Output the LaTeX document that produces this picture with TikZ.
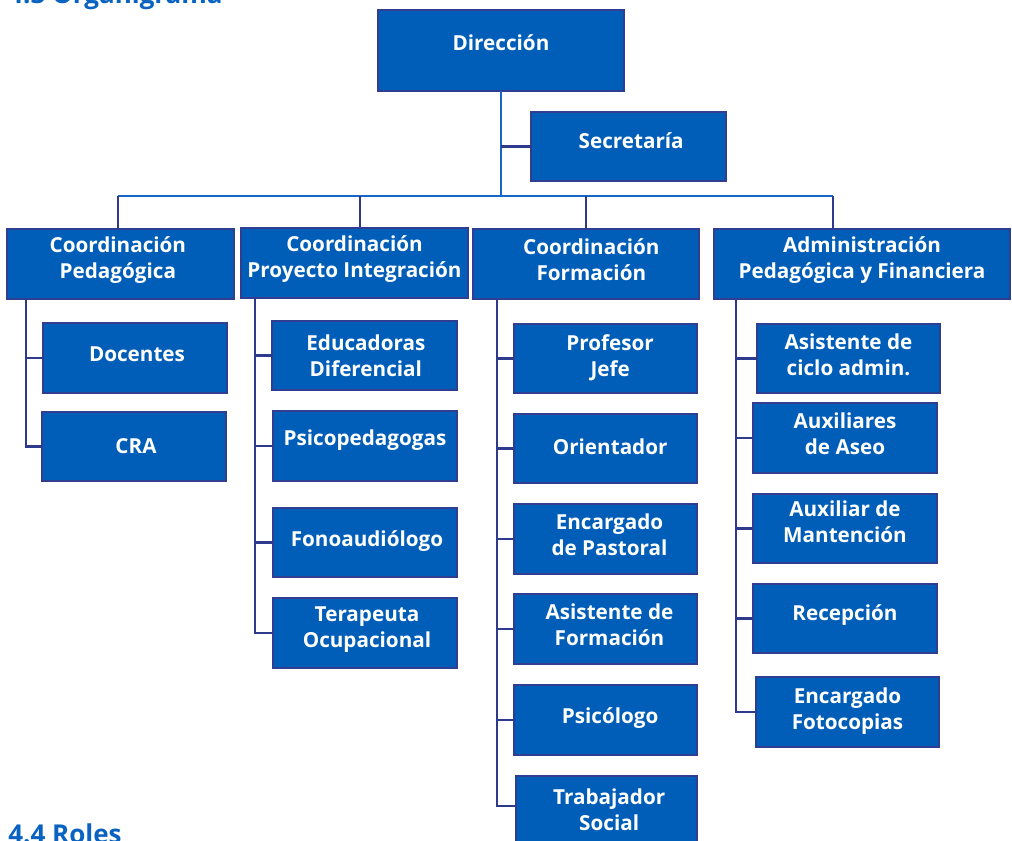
\documentclass[tikz,border=0pt]{standalone}
\usepackage{fontspec}
\setmainfont{Open Sans}
\usetikzlibrary{fit,calc}
\definecolor{orgfill}{RGB}{0,94,184}
\definecolor{orgedge}{RGB}{47,62,145}
\definecolor{orgnavy}{RGB}{46,58,140}
\definecolor{orgtrunk}{RGB}{22,102,200}
\definecolor{orghead}{RGB}{10,99,193}

\begin{document}
\begin{tikzpicture}[x=0.75pt, y=-0.75pt,
    orgbox/.style={draw=orgedge, fill=orgfill, line width=1.5pt, inner sep=0pt, outer sep=0pt},
    orgtext/.style={text=white, align=center, yshift=3pt, inner sep=0pt,
        font=\fontsize{15.5}{19.5}\selectfont\bfseries},
    link/.style={draw=orgnavy, line width=1.8pt},
    trunk/.style={draw=orgtrunk, line width=1.8pt},
    heading/.style={text=orghead, inner sep=0pt, font=\fontsize{19.5}{24}\selectfont\bfseries}
  ]
    \useasboundingbox (0,0) rectangle (1012,840);
    \clip (0,0) rectangle (1012,840);

    \node[heading, anchor=base west] (h43) at (8,3) {4.3 Organigrama};
    \node[heading, anchor=base west] (h44) at (8,843) {4.4 Roles};

    \node[orgbox, fit={(378,10) (624,91)}, label={[orgtext, yshift=3pt]center:Dirección}] (dir) {};
    \node[orgbox, fit={(531,112) (726,181)}, label={[orgtext, yshift=1.5pt, xshift=2pt]center:Secretaría}] (sec) {};

    \node[orgbox, fit={(7,229) (234,299)}, label={[orgtext, xshift=-2pt]center:Coordinación\\Pedagógica}] (cped) {};
    \node[orgbox, fit={(241,228) (468,298)}, label={[orgtext]center:Coordinación\\Proyecto Integración}] (cpi) {};
    \node[orgbox, fit={(473,229) (699,299)}, label={[orgtext, xshift=4pt]center:Coordinación\\Formación}] (cfor) {};
    \node[orgbox, fit={(714,229) (1010,299)}, label={[orgtext]center:Administración\\Pedagógica y Financiera}] (cadm) {};

    \node[orgbox, fit={(43,323) (227,393)}, label={[orgtext, xshift=1.5pt]center:Docentes}] (doc) {};
    \node[orgbox, fit={(42,412) (226,481)}, label={[orgtext, yshift=-3pt, xshift=1.5pt]center:CRA}] (cra) {};

    \node[orgbox, fit={(272,321) (457,390)}, label={[orgtext, yshift=-3.5pt, xshift=1pt]center:Educadoras\\Diferencial}] (edu) {};
    \node[orgbox, fit={(273,411) (457,481)}, label={[orgtext, yshift=1.5pt]center:Psicopedagogas}] (psp) {};
    \node[orgbox, fit={(273,508) (457,577)}, label={[orgtext, yshift=-2pt, xshift=1.5pt]center:Fonoaudiólogo}] (fon) {};
    \node[orgbox, fit={(273,598) (457,668)}, label={[orgtext, yshift=-0.5pt, xshift=1.5pt]center:Terapeuta\\Ocupacional}] (ter) {};

    \node[orgbox, fit={(514,324) (697,393)}, label={[orgtext, yshift=-2.5pt, xshift=3.5pt]center:Profesor\\Jefe}] (pjf) {};
    \node[orgbox, fit={(514,414) (697,483)}, label={[orgtext, yshift=-2pt, xshift=3.5pt]center:Orientador}] (ori) {};
    \node[orgbox, fit={(514,504) (697,574)}, label={[orgtext, xshift=3pt]center:Encargado\\de Pastoral}] (pas) {};
    \node[orgbox, fit={(514,594) (697,664)}, label={[orgtext, xshift=3pt]center:Asistente de\\Formación}] (asf) {};
    \node[orgbox, fit={(514,685) (697,755)}, label={[orgtext, yshift=-1.5pt, xshift=3.5pt]center:Psicólogo}] (psi) {};
    \node[orgbox, fit={(516,776) (697,860)}, label={[orgtext, yshift=3.5pt, xshift=2pt]center:Trabajador\\Social}] (tso) {};

    \node[orgbox, fit={(757,324) (940,393)}, label={[orgtext]center:Asistente de\\ciclo admin.}] (aca) {};
    \node[orgbox, fit={(753,403) (937,473)}, label={[orgtext]center:Auxiliares\\de Aseo}] (aux) {};
    \node[orgbox, fit={(753,494) (937,563)}, label={[orgtext, yshift=2pt]center:Auxiliar de\\Mantención}] (man) {};
    \node[orgbox, fit={(753,584) (937,653)}, label={[orgtext, yshift=-0.5pt]center:Recepción}] (rec) {};
    \node[orgbox, fit={(756,677) (939,747)}, label={[orgtext, yshift=-2pt]center:Encargado\\Fotocopias}] (fot) {};

    \coordinate (bus) at (501,196);
    \coordinate (b1) at (118,196);
    \coordinate (b2) at (360,196);
    \coordinate (b3) at (586,196);
    \coordinate (b4) at (833,196);

    \draw[trunk] (dir.south) -- (bus);
    \draw[trunk] (b1) -- (b4);
    \draw[link] (sec.west) -- (sec.west -| bus);
    \draw[link] (b1) -- (b1 |- cped.north);
    \draw[link] (b2) -- (b2 |- cpi.north);
    \draw[link] (b3) -- (b3 |- cfor.north);
    \draw[link] (b4) -- (b4 |- cadm.north);

    \foreach \c in {doc,cra}
        \draw[link] ($(cped.south west)+(19,0)$) |- (\c.west);
    \foreach \c in {edu,psp,fon,ter}
        \draw[link] ($(cpi.south west)+(14,0)$) |- (\c.west);
    \foreach \c in {pjf,ori,pas,asf,psi}
        \draw[link] ($(cfor.south west)+(24,0)$) |- (\c.west);
    \draw[link] ($(cfor.south west)+(24,0)$) |- ($(tso.north west)+(0,30)$);
    \foreach \c in {aca,aux,man,rec,fot}
        \draw[link] ($(cadm.south west)+(22,0)$) |- (\c.west);
\end{tikzpicture}
\end{document}
